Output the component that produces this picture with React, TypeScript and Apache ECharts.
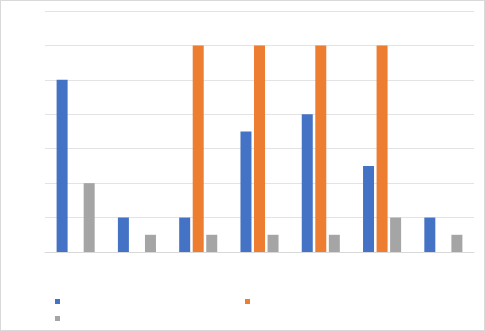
import React, { useEffect, useRef } from "react";
import * as echarts from "echarts";

const categories = ["1", "2", "3", "4", "5", "6", "7"];
const seriesNames = ["Series 1", "Series 2", "Series 3"];
const blueValues: (number | string)[] = [5, 1, 1, 3.5, 4, 2.5, 1];
const orangeValues: (number | string)[] = ["-", "-", 6, 6, 6, 6, "-"];
const grayValues: (number | string)[] = [2, 0.5, 0.5, 0.5, 0.5, 1, 0.5];
const colors = ["#4472C4", "#ED7D31", "#A5A5A5"];

export default function App() {
  const ref = useRef<HTMLDivElement>(null);
  useEffect(() => {
    if (!ref.current) return;
    const chart = echarts.init(ref.current, null, { renderer: "svg" });
    const mkLegend = (name: string, left: number, top: number) => ({
      data: [name],
      left,
      top,
      padding: 0,
      icon: "rect",
      itemWidth: 5,
      itemHeight: 5,
      formatter: () => "",
      selectedMode: false,
    });
    const data = [blueValues, orangeValues, grayValues];
    chart.setOption({
      animation: false,
      color: colors,
      grid: { left: 45, right: 11, top: 11, bottom: 79 },
      legend: [
        mkLegend(seriesNames[0], 55, 299),
        mkLegend(seriesNames[1], 245, 299),
        mkLegend(seriesNames[2], 55, 316),
      ],
      xAxis: {
        type: "category",
        data: categories,
        axisLine: { lineStyle: { color: "#d9d9d9" } },
        axisTick: { show: false },
        axisLabel: { show: false },
      },
      yAxis: {
        type: "value",
        min: 0,
        max: 7,
        interval: 1,
        axisLabel: { show: false },
        axisLine: { show: false },
        axisTick: { show: false },
        splitLine: { lineStyle: { color: "#e3e3e3" } },
      },
      series: seriesNames.map((name, i) => ({
        name,
        type: "bar",
        data: data[i],
        barWidth: 11,
        barGap: "23%",
        itemStyle: { color: colors[i] },
      })),
    });
    return () => chart.dispose();
  }, []);
  return (
    <div
      style={{
        position: "fixed",
        left: 0,
        top: 0,
        width: 485,
        height: 331,
        background: "#fff",
      }}
    >
      <div ref={ref} style={{ position: "absolute", left: 0, top: 0, width: 485, height: 331 }} />
      <div
        style={{
          position: "absolute",
          left: 0,
          top: 0,
          width: 485,
          height: 331,
          boxSizing: "border-box",
          border: "1px solid #d9d9d9",
          pointerEvents: "none",
        }}
      />
    </div>
  );
}
